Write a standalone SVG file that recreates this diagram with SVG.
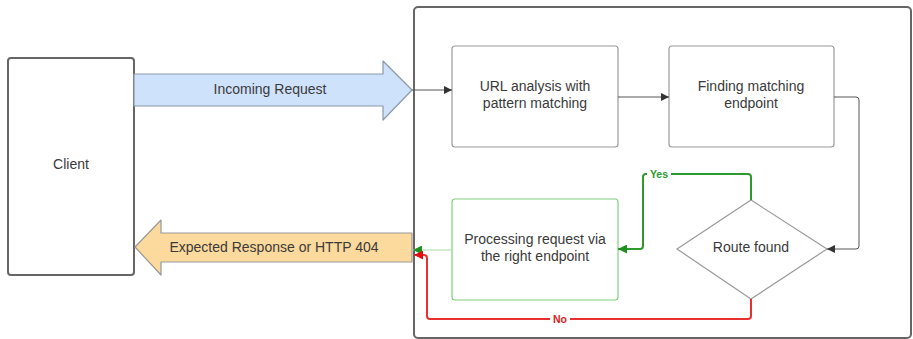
<svg xmlns="http://www.w3.org/2000/svg" width="913" height="339" viewBox="0 0 913 339">
<defs>
<style>
text{font-family:"Liberation Sans",Arial,sans-serif;font-size:14px;fill:#3a3a3a;text-anchor:middle;dominant-baseline:central}
.box{fill:#fff;stroke:#9a9a9a;stroke-width:1.2}
.big{fill:#fff;stroke:#666;stroke-width:2}
.conn{fill:none;stroke:#555;stroke-width:1}
.yes{fill:none;stroke:#2e9a2e;stroke-width:2}
.no{fill:none;stroke:#e83030;stroke-width:2}
.lbl{font-size:10.5px;font-weight:bold}
</style>
<marker id="ah" viewBox="0 0 10 10" refX="10" refY="5" markerWidth="10" markerHeight="8" markerUnits="userSpaceOnUse" orient="auto"><path d="M0,0 L10,5 L0,10 Z" fill="#333"/></marker>
<marker id="ahg" viewBox="0 0 10 10" refX="10" refY="5" markerWidth="12" markerHeight="9" markerUnits="userSpaceOnUse" orient="auto"><path d="M0,0 L10,5 L0,10 Z" fill="#1f8f1f"/></marker>
<marker id="ahr" viewBox="0 0 10 10" refX="10" refY="5" markerWidth="12" markerHeight="9" markerUnits="userSpaceOnUse" orient="auto"><path d="M0,0 L10,5 L0,10 Z" fill="#e01010"/></marker>
</defs>
<rect width="913" height="339" fill="#fff"/>
<g id="container"><rect class="big" x="414" y="7" width="497" height="331" rx="4"/></g>
<g id="client"><rect class="big" x="8" y="58" width="126" height="217" rx="3"/><text x="71" y="164">Client</text></g>
<g id="incoming"><path d="M134,74 H383 V61 L412,90 L383,120 V106 H134 Z" fill="#cfe2fb" stroke="#8b98a8" stroke-width="1.2" stroke-linejoin="round"/><text x="270" y="89">Incoming Request</text></g>
<g id="response"><path d="M412,233 H161 V220 L135,247 L161,275 V262 H412 Z" fill="#fcd99c" stroke="#999" stroke-width="1.2" stroke-linejoin="round"/><text x="274" y="247">Expected Response or HTTP 404</text></g>
<g id="url"><rect class="box" x="452" y="46" width="166" height="101" rx="3"/><text x="535" y="86">URL analysis with</text><text x="535" y="103">pattern matching</text></g>
<g id="finding"><rect class="box" x="669" y="46" width="165" height="101" rx="3"/><text x="751" y="86">Finding matching</text><text x="751" y="103">endpoint</text></g>
<g id="processing"><rect x="452" y="199" width="166" height="101" rx="3" fill="#fff" stroke="#7fcf7f" stroke-width="1.2"/><text x="535" y="239">Processing request via</text><text x="535" y="256">the right endpoint</text></g>
<g id="route"><path d="M751,200 L827,249 L751,299 L677,249 Z" fill="#fff" stroke="#9a9a9a" stroke-width="1.2"/><text x="751" y="247">Route found</text></g>
<g id="connectors">
<path class="conn" d="M412,90 H452" marker-end="url(#ah)"/>
<path class="conn" d="M618,97 H669" marker-end="url(#ah)"/>
<path class="conn" d="M834,97 H856 Q859,97 859,100 V246 Q859,249 856,249 H827" stroke="#888" marker-end="url(#ah)"/>
<path class="yes" d="M751,200 V177 Q751,174 748,174 H646 Q643,174 643,177 V246 Q643,249 640,249 H618" marker-end="url(#ahg)"/>
<path d="M452,250 H413" fill="none" stroke="#a8dca8" stroke-width="1.2" marker-end="url(#ahg)"/>
<path class="no" d="M751,299 V316 Q751,319 748,319 H430 Q427,319 427,316 V258 Q427,255 424,255 H414" marker-end="url(#ahr)"/>
<rect x="647" y="168" width="24" height="12" fill="#fff"/>
<text class="lbl" x="659" y="174" style="fill:#2e9a2e">Yes</text>
<rect x="550" y="313" width="20" height="12" fill="#fff"/>
<text class="lbl" x="560" y="319" style="fill:#e02020">No</text>
</g>
</svg>
